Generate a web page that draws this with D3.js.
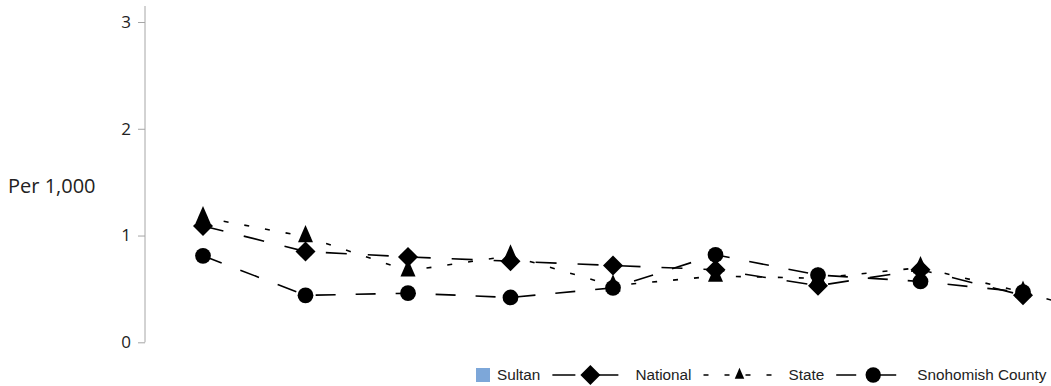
<!DOCTYPE html>
<html>
<head>
<meta charset="utf-8">
<script src="https://cdn.jsdelivr.net/npm/d3@7"></script>
<style>
    body { margin: 0; background: #fff; }
    svg { display: block; }
    .tick text { font-family: "Open Sans", sans-serif; font-size: 17px; fill: #222; }
    .y-title { font-family: "Open Sans", sans-serif; font-size: 20px; fill: #222; }
    .legend text { font-family: "Liberation Sans", Arial, sans-serif; font-size: 15.3px; fill: #222; }
</style>
</head>
<body>
<div id="chart"></div>
<script>
// periods along the x axis (no labels shown in the source picture)
const categories = ['P1', 'P2', 'P3', 'P4', 'P5', 'P6', 'P7', 'P8', 'P9', 'P10'];

const sultanValues = [null, null, null, null, null, null, null, null, null, null];
const nationalValues = [1.09, 0.85, 0.80, 0.76, 0.72, 0.68, 0.53, 0.68, 0.44, null];
const stateValues = [1.17, 0.99, 0.67, 0.81, 0.53, 0.62, 0.60, 0.70, 0.47, 0.20];
const countyValues = [0.81, 0.44, 0.46, 0.42, 0.51, 0.82, 0.63, 0.57, 0.47, null];

const yTicks = [0, 1, 2, 3];
const yTitle = 'Per 1,000';

const width = 1051;
const height = 386;

// plot frame
const axisX = 145;
const yBottom = 342.3;
const yTop = 6;
const yMax = 3.15;
const firstX = 203;
const step = 102.5;

const xScale = d3.scalePoint()
    .domain(categories)
    .range([firstX, firstX + step * (categories.length - 1)]);

const yScale = d3.scaleLinear()
    .domain([0, yMax])
    .range([yBottom, yTop]);

const diamond = {
    draw(ctx, size) {
        const r = Math.sqrt(size / 2);
        ctx.moveTo(0, -r);
        ctx.lineTo(r, 0);
        ctx.lineTo(0, r);
        ctx.lineTo(-r, 0);
        ctx.closePath();
    }
};
const triangle = {
    draw(ctx, size) {
        // a bit taller than equilateral, like the source markers
        const w = Math.sqrt(size) * 0.75;
        const h = w * 2.3;
        ctx.moveTo(0, -h * 2 / 3);
        ctx.lineTo(w, h / 3);
        ctx.lineTo(-w, h / 3);
        ctx.closePath();
    }
};

const lineSeries = [
    {name: 'National', values: nationalValues, dash: '21,21', symbol: diamond, size: 200,
        legend: {line: 66, dash: '23,20', mark: 38, text: 83, size: 200}},
    {name: 'State', values: stateValues, dash: '5,16', symbol: triangle, size: 100,
        legend: {line: 70, dash: '5,16', mark: 36, text: 85, size: 40}},
    {name: 'Snohomish County', values: countyValues, dash: '20,20', symbol: d3.symbolCircle, size: 195,
        legend: {line: 62, dash: '20,20', mark: 37, text: 81, size: 185}}
];

const svg = d3.select('#chart')
  .append('svg')
    .attr('width', width)
    .attr('height', height);

// y axis
const yAxis = d3.axisLeft(yScale)
    .tickValues(yTicks)
    .tickFormat(d3.format('d'))
    .tickSize(7)
    .tickPadding(7);

const yAxisGroup = svg.append('g')
    .attr('transform', `translate(${axisX},0)`)
    .call(yAxis);

yAxisGroup.select('.domain')
    .attr('d', `M0,${yTop}V${yBottom}`)
    .attr('stroke', '#a6a6a6');
yAxisGroup.selectAll('.tick line').attr('stroke', '#a6a6a6');
yAxisGroup.selectAll('.tick text').attr('fill', '#222');

svg.append('text')
    .attr('class', 'y-title')
    .attr('x', 8)
    .attr('y', 186)
    .attr('dy', '0.35em')
    .text(yTitle);

// series lines
const line = d3.line()
    .defined(d => d.value != null)
    .x(d => xScale(d.category))
    .y(d => yScale(d.value));

const plot = svg.append('g').attr('class', 'plot');

lineSeries.forEach(s => {
    const points = categories.map((c, i) => ({category: c, value: s.values[i]}));

    plot.append('path')
        .datum(points)
        .attr('fill', 'none')
        .attr('stroke', '#000')
        .attr('stroke-width', 1.6)
        .attr('stroke-dasharray', s.dash)
        .attr('d', line);
});

lineSeries.forEach(s => {
    const points = categories
        .map((c, i) => ({category: c, value: s.values[i]}))
        .filter(d => d.value != null);

    plot.selectAll(null)
        .data(points)
        .join('path')
        .attr('transform', d => `translate(${xScale(d.category)},${yScale(d.value)})`)
        .attr('d', d3.symbol(s.symbol, s.size))
        .attr('fill', '#000');
});

// legend
const legend = svg.append('g')
    .attr('class', 'legend')
    .attr('transform', 'translate(476,375)');

const legendGap = 12;
let cursor = 0;

const sultanItem = legend.append('g').attr('transform', `translate(${cursor},0)`);
sultanItem.append('rect')
    .attr('x', 0)
    .attr('y', -7)
    .attr('width', 14)
    .attr('height', 14)
    .attr('fill', '#7da7d9');
const sultanText = sultanItem.append('text')
    .attr('x', 21)
    .attr('dy', '0.35em')
    .text('Sultan');
cursor += 21 + sultanText.node().getComputedTextLength() + legendGap;

lineSeries.forEach(s => {
    const l = s.legend;
    const item = legend.append('g').attr('transform', `translate(${cursor},0)`);
    item.append('line')
        .attr('x1', 0)
        .attr('x2', l.line)
        .attr('stroke', '#000')
        .attr('stroke-width', 1.6)
        .attr('stroke-dasharray', l.dash);
    item.append('path')
        .attr('transform', `translate(${l.mark},0)`)
        .attr('d', d3.symbol(s.symbol, l.size))
        .attr('fill', '#000');
    const t = item.append('text')
        .attr('x', l.text)
        .attr('dy', '0.35em')
        .text(s.name);
    cursor += l.text + t.node().getComputedTextLength() + legendGap;
});
</script>
</body>
</html>
